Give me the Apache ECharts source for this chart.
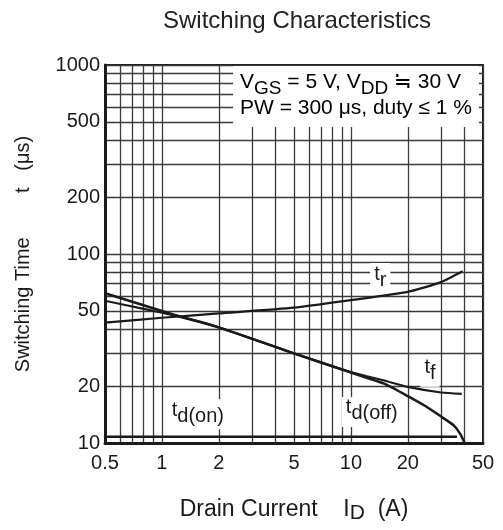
<!DOCTYPE html>
<html>
<head>
<meta charset="utf-8">
<script src="https://cdn.jsdelivr.net/npm/echarts@6/dist/echarts.min.js"></script>
<style>
html, body { margin: 0; padding: 0; background: #fff; }
#chart-container { width: 503px; height: 530px; }
</style>
</head>
<body>
<div id="chart-container"></div>
<script>
// axis ticks (log scales)
const xLabels = [0.5, 1, 2, 5, 10, 20, 50];
const xGrid = [0.5, 0.6, 0.7, 0.8, 0.9, 1, 2, 3, 4, 5, 6, 7, 8, 9, 10, 20, 30, 40, 50];
const yLabels = [10, 20, 50, 100, 200, 500, 1000];
const yGrid = [10, 20, 30, 40, 50, 60, 70, 80, 90, 100, 200, 300, 400, 500, 600, 700, 800, 900, 1000];

// curves: [ID (A), t (us)]
const tr = [[0.5, 43.3], [1, 46], [2, 48.5], [5, 52], [10, 57], [20, 63], [30, 71], [39, 81]];
const tf = [[0.5, 56.6], [0.8, 51.2], [1.25, 46.6], [2, 40.9], [5, 29.8], [10, 23.7], [12, 22.6], [15, 21.4], [20, 19.8], [30, 18.5], [38.6, 18.2]];
const tdOff = [[0.5, 62], [1, 49.9], [1.25, 46.6], [2, 40.9], [5, 29.8], [10, 23.6], [12, 22.2], [15, 20.6], [20, 17.7], [25, 15.6], [30, 13.8], [35, 12.4], [38, 11.1], [40, 10]];
const tdOn = [[0.5, 10.8], [36.4, 10.8]];

const font = 'Liberation Sans, Arial, sans-serif';
const ink = '#1a1a1a';

// rich styles: main text + lowered subscript
const tagRich = {
	t: { fontFamily: font, fontSize: 20, lineHeight: 26, verticalAlign: 'top', color: ink },
	s: { fontFamily: font, fontSize: 20, lineHeight: 14, verticalAlign: 'bottom', color: ink }
};

const tag = (txt, coord) => ({
	symbol: 'rect',
	symbolSize: 0,
	label: {
		show: true,
		position: 'inside',
		formatter: txt,
		backgroundColor: '#fff',
		padding: [1, 4, 3, 4],
		rich: tagRich
	},
	data: [{ coord: coord }]
});

const curve = (name, data, width, mark) => ({
	name: name,
	type: 'line',
	data: data,
	symbol: 'none',
	smooth: 0.2,
	lineStyle: { color: ink, width: width },
	markPoint: mark
});

const myChart = echarts.init(document.getElementById('chart-container'));

const option = {
	animation: false,
	backgroundColor: '#fff',
	title: {
		text: 'Switching Characteristics',
		left: 158,
		top: 4,
		textStyle: { fontFamily: font, fontSize: 24, fontWeight: 'normal', color: '#222' }
	},
	grid: {
		left: 105, right: 20, top: 65, bottom: 87,
		show: true,
		borderColor: ink,
		borderWidth: 2
	},
	xAxis: {
		type: 'log',
		logBase: 10,
		min: 0.5,
		max: 50,
		name: '{m|Drain Current    I}{s|D}{m|  (A)}',
		nameLocation: 'middle',
		nameGap: 55,
		nameTextStyle: {
			rich: {
				m: { fontFamily: font, fontSize: 23, lineHeight: 26, verticalAlign: 'top', color: ink },
				s: { fontFamily: font, fontSize: 21, lineHeight: 16, verticalAlign: 'bottom', color: ink }
			}
		},
		axisLine: { show: true, lineStyle: { color: ink, width: 3 } },
		axisTick: { show: false, customValues: xGrid },
		axisLabel: {
			customValues: xLabels,
			margin: 10,
			fontFamily: font,
			fontSize: 20,
			color: ink,
			formatter: v => String(v)
		},
		splitLine: { show: true, customValues: xGrid, lineStyle: { color: '#3a3a3a', width: 1.3 } },
		minorSplitLine: { show: false }
	},
	yAxis: {
		type: 'log',
		logBase: 10,
		min: 10,
		max: 1000,
		name: 'Switching Time        t   (μs)',
		nameLocation: 'middle',
		nameRotate: 90,
		nameGap: 72,
		nameTextStyle: { fontFamily: font, fontSize: 20, color: ink },
		axisLine: { show: true, lineStyle: { color: ink, width: 3 } },
		axisTick: { show: false, customValues: yGrid },
		axisLabel: {
			customValues: yLabels,
			margin: 5,
			fontFamily: font,
			fontSize: 20,
			color: ink,
			formatter: v => String(v)
		},
		splitLine: { show: true, customValues: yGrid, lineStyle: { color: '#3a3a3a', width: 1.3 } },
		minorSplitLine: { show: false }
	},
	graphic: [{
		type: 'text',
		left: 233,
		top: 66,
		z: 100,
		style: {
			text: '{m|V}{s|GS}{m| = 5 V, V}{s|DD}{m| ≒ 30 V}\n{m|PW = 300 μs, duty ≤ 1 %}',
			backgroundColor: '#fff',
			padding: [6, 7, 3, 7],
			rich: {
				m: { fontFamily: font, fontSize: 21, lineHeight: 26, verticalAlign: 'top', color: ink },
				s: { fontFamily: font, fontSize: 19, lineHeight: 8, verticalAlign: 'bottom', color: ink }
			}
		}
	}],
	series: [
		curve('tr', tr, 2.2, tag('{t|t}{s|r}', [14.3, 74.6])),
		curve('tf', tf, 2.2, tag('{t|t}{s|f}', [26.2, 23.8])),
		curve('td(off)', tdOff, 2.5, tag('{t|t}{s|d(off)}', [12.9, 14.6])),
		curve('td(on)', tdOn, 2.5, tag('{t|t}{s|d(on)}', [1.55, 14.2]))
	]
};

myChart.setOption(option);
</script>
</body>
</html>
